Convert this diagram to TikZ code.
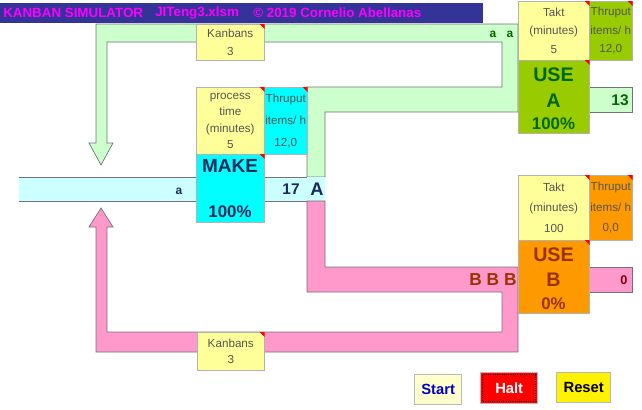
\documentclass[tikz,border=0pt]{standalone}
\usepackage{fontspec}
\setmainfont{Liberation Sans}
\usepackage{xcolor}
\usepackage{tikz}
\usetikzlibrary{positioning,calc}
\definecolor{barblue}{HTML}{333399}
\definecolor{titlepink}{HTML}{FF00FF}
\definecolor{pipegreen}{HTML}{CCFFCC}
\definecolor{pipecyan}{HTML}{CCFFFF}
\definecolor{pipepink}{HTML}{FF99CC}
\definecolor{noteyellow}{HTML}{FFFF99}
\definecolor{makecyan}{HTML}{00FFFF}
\definecolor{usegreen}{HTML}{99CC00}
\definecolor{useorange}{HTML}{FF9900}
\definecolor{darkgreen}{HTML}{006600}
\definecolor{navytext}{HTML}{1A2A5A}
\definecolor{brownred}{HTML}{993300}
\definecolor{darkred}{HTML}{800000}
\definecolor{lbl}{HTML}{555555}
\definecolor{startbg}{HTML}{FFFFCC}
\definecolor{startblue}{HTML}{0000CC}
\newcommand{\redcorner}[1]{\fill[red] ([xshift=-3.5pt]#1.north east) -- (#1.north east) -- ([yshift=-3.5pt]#1.north east) -- cycle;}
\tikzset{
  cell/.style={draw=gray!60, inner sep=0pt, anchor=north west},
  sz/.style 2 args={minimum width=#1*0.025cm, minimum height=#2*0.025cm},
  note/.style={text=lbl, align=center, font=\fontsize{8.3}{#1}\selectfont},
  pipeline/.style={draw=black!55, line width=0.5pt},
  big/.style={inner sep=0pt, font=\fontsize{#1}{#1}\selectfont\bfseries},
  button/.style={draw=gray!55, line width=1pt, inner sep=0pt, anchor=north west}
}

\begin{document}
\begin{tikzpicture}[x=0.025cm, y=-0.025cm]
\useasboundingbox (0,0) rectangle (642,409);

\fill[barblue] (0,3) rectangle (483,23);
\node[big=9.5, text=titlepink, anchor=west] (title) at (3,13) {KANBAN SIMULATOR};
\node[big=9.5, text=titlepink, anchor=west] (file) at (155,13) {JITeng3.xlsm};
\node[big=9.5, text=titlepink, anchor=west] (copy) at (253,13) {© 2019 Cornelio Abellanas};

\draw[pipeline, fill=pipegreen] (96,143) -- (89,143) -- (101,165) -- (113,143) -- (107,143) -- (107,42) -- (502,42) -- (502,87) -- (307,87) -- (307,177) -- (325,177) -- (325,112) -- (518,112) -- (518,24) -- (96,24) -- cycle;
\draw[pipeline, fill=pipegreen] (589,87) rectangle (632,112);
\fill[pipecyan] (19,177) rectangle (325,201);
\draw[pipeline] (19,177) -- (307,177) (19,201) -- (307,201);
\draw[pipeline, fill=pipepink] (307,201) -- (307,292) -- (502,292) -- (502,332) -- (107,332) -- (107,227) -- (113,227) -- (101,208) -- (89,227) -- (96,227) -- (96,352) -- (518,352) -- (518,267) -- (325,267) -- (325,201) -- cycle;
\draw[pipeline, fill=pipepink] (589,267) rectangle (632,292);

\node[cell, fill=noteyellow, sz={68}{36}, note=12.8] (kanA) at (196,24) {Kanbans\\3};
\node[cell, fill=noteyellow, sz={68}{67}, note=11.6] (proc) at (196,87) {process\\time\\(minutes)\\5};
\node[cell, fill=makecyan, sz={43}{67}, note=15.5] (thruM) at (264,87) {Thruput\\items/ h\\12,0};
\node[cell, fill=makecyan, sz={68}{68}] (make) at (196,154) {};
\node[cell, fill=noteyellow, sz={71}{59}, note=13] (taktA) at (518,1) {Takt\\(minutes)\\5};
\node[cell, fill=usegreen, sz={43}{59}, note=13] (thruA) at (589,1) {Thruput\\items/ h\\12,0};
\node[cell, fill=usegreen, sz={71}{73}] (useA) at (518,60) {};
\node[cell, fill=noteyellow, sz={71}{65}, note=14.5] (taktB) at (518,175) {Takt\\(minutes)\\100};
\node[cell, fill=useorange, sz={43}{65}, note=14.5] (thruB) at (589,175) {Thruput\\items/ h\\0,0};
\node[cell, fill=useorange, sz={71}{73}] (useB) at (518,240) {};
\node[cell, fill=noteyellow, sz={67}{38}, note=11.5] (kanB) at (197,332) {Kanbans\\3};
\foreach \n in {kanA,proc,thruM,make,taktA,thruA,useA,taktB,thruB,useB,kanB} {\redcorner{\n}}

\node[big=13.5, text=navytext] (makeT) at (230,166) {MAKE};
\node[big=12, text=navytext] (makeP) at (230,212) {100\%};
\node[big=14, text=darkgreen] (useAT) at (553.5,75) {USE};
\node[big=14, text=darkgreen] (useAN) at (553.5,101) {A};
\node[big=12, text=darkgreen] (useAP) at (553.5,124) {100\%};
\node[big=14, text=brownred] (useBT) at (553.5,255) {USE};
\node[big=14, text=brownred] (useBN) at (553.5,280) {B};
\node[big=12, text=brownred] (useBP) at (553.5,304) {0\%};

\node[big=8.5, text=navytext] (tokA) at (179,191) {a};
\node[big=11, text=navytext] (wipA) at (291,189) {17};
\node[big=13, text=navytext] (partA) at (317,189) {A};
\node[big=8.5, text=darkgreen] (kanA1) at (493,34) {a};
\node[big=8.5, text=darkgreen] (kanA2) at (510,34) {a};
\node[big=11, text=darkgreen] (outA) at (620,100) {13};
\node[big=12.3, text=brownred] (queueB) at (493,280) {B B B};
\node[big=9, text=darkred] (outB) at (624,280) {0};

\node[button, fill=startbg, sz={47}{30}, big=10.5, text=startblue] (start) at (414,374) {Start};
\node[button, fill=red, sz={57}{31}, big=10.5, text=white] (halt) at (480,372) {Halt};
\draw[black!85, densely dotted, line width=0.6pt] ([shift={(2pt,-2pt)}]halt.north west) rectangle ([shift={(-2pt,2pt)}]halt.south east);
\node[button, fill=yellow, sz={54}{30}, big=10.5, text=black] (reset) at (556,372) {Reset};
\end{tikzpicture}
\end{document}
